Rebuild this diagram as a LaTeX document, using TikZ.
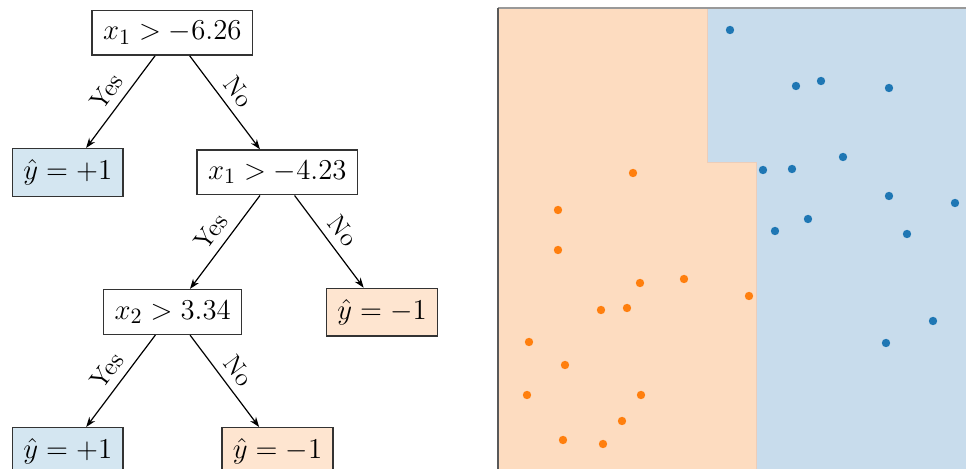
\documentclass[tikz,border=0pt]{standalone}
\usetikzlibrary{arrows.meta}
\definecolor{regorange}{RGB}{253,220,192}
\definecolor{regblue}{RGB}{200,220,236}
\definecolor{regedge}{RGB}{236,205,185}
\definecolor{leafblue}{RGB}{212,230,241}
\definecolor{leaforange}{RGB}{254,229,208}
\definecolor{ptblue}{RGB}{31,119,180}
\definecolor{ptorange}{RGB}{255,127,14}
\begin{document}
\begin{tikzpicture}[x=0.5pt,y=-0.5pt,
  font=\fontsize{12.8}{15}\selectfont,
  boxbase/.style={draw=black!80, line width=0.7pt, inner xsep=5.5pt, inner ysep=0pt,
    font=\fontsize{15.4}{18}\selectfont},
  tnode/.style={boxbase, fill=white, minimum height=22.4pt},
  leafpos/.style={boxbase, fill=leafblue, minimum height=23.8pt},
  leafneg/.style={boxbase, fill=leaforange, minimum height=23.8pt},
  conn/.style={-{Stealth[length=5pt,width=3.6pt]}, line width=0.6pt},
  lbl/.style={sloped, above, inner sep=4pt},
  dotb/.style={fill=ptblue},
  doto/.style={fill=ptorange}]
\useasboundingbox (0,0) rectangle (966,469);

% ---------- decision regions ----------
\fill[regorange] (498,8) -- (707,8) -- (707,163) -- (756,163) -- (756,469) -- (498,469) -- cycle;
\fill[regblue] (707,8) -- (966,8) -- (966,469) -- (756,469) -- (756,163) -- (707,163) -- cycle;
\draw[regedge, line width=0.5pt] (707,8) -- (707,163) -- (756,163) -- (756,469);
\draw[black!40, line width=0.8pt] (498,8) -- (966,8);
\draw[black!65, line width=1pt] (498,469) -- (498,7.6);

% ---------- points ----------
\foreach \px/\py in {730/30, 796/86, 821/81, 889/88, 763/170, 792/169, 843/157,
  889/196, 955/203, 808/219, 775/231, 907/234, 933/321, 886/343}
  \fill[dotb] (\px,\py) circle (4.2);
\foreach \px/\py in {633/173, 558/210, 558/250, 640/283, 684/279, 749/296,
  601/310, 627/308, 529/342, 565/365, 527/395, 641/395, 622/421, 563/440, 603/444}
  \fill[doto] (\px,\py) circle (4.2);

% ---------- tree ----------
\node[tnode] (r) at (172.3,32.7) {$x_1 > -6.26$};
\node[leafpos] (l1) at (67.8,172.5) {$\hat{y} = +1$};
\node[tnode] (n2) at (277.3,172.4) {$x_1 > -4.23$};
\node[tnode] (n3) at (172.7,312) {$x_2 > 3.34$};
\node[leafneg] (l2) at (382,312.2) {$\hat{y} = -1$};
\node[leafpos] (l3) at (67.8,451.5) {$\hat{y} = +1$};
\node[leafneg] (l4) at (277.5,451.5) {$\hat{y} = -1$};

\draw[conn] (r) -- node[lbl] {Yes} (l1);
\draw[conn] (r) -- node[lbl] {No} (n2);
\draw[conn] (n2) -- node[lbl] {Yes} (n3);
\draw[conn] (n2) -- node[lbl] {No} (l2);
\draw[conn] (n3) -- node[lbl] {Yes} (l3);
\draw[conn] (n3) -- node[lbl] {No} (l4);
\end{tikzpicture}
\end{document}
